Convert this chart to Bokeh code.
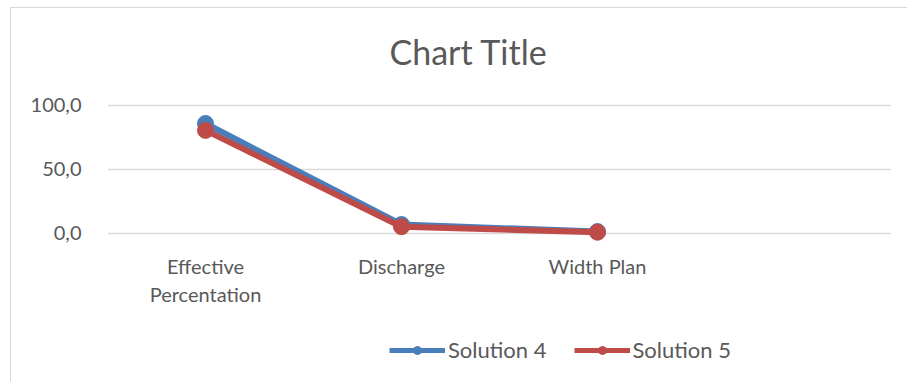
from bokeh.plotting import figure
from bokeh.layouts import column
from bokeh.models import Range1d, FixedTicker, Legend, LegendItem, ColumnDataSource
from bokeh.embed import file_html
from bokeh.resources import INLINE

categories = ["Effective Percentation", "Discharge", "Width Plan"]
category_labels = ["Effective\nPercentation", "Discharge", "Width Plan"]
series_names = ["Solution 4", "Solution 5"]
solution4 = [85.9, 7.0, 1.5]
solution5 = [80.5, 5.3, 1.0]
y_ticks = [0, 50, 100]
y_tick_labels = ["0,0", "50,0", "100,0"]

FONT = "Lato"
TXT = "#595959"
GRID = "#d9d9d9"
BLUE = "#4a7ebb"
RED = "#be4b48"

xs = list(range(len(categories)))

p = figure(width=896, height=305, output_backend="svg", toolbar_location=None,
           x_range=Range1d(-0.5, 3.5), y_range=Range1d(-12.5, 114.8),
           min_border_left=96, min_border_right=16, min_border_top=78, min_border_bottom=64)
p.outline_line_color = None
p.background_fill_color = "white"
p.border_fill_color = "white"

p.title.text = "Chart Title"
p.title.align = "left"
p.title.offset = 282
p.title.text_font = FONT
p.title.text_font_size = "34px"
p.title.text_font_style = "normal"
p.title.text_color = TXT
p.title.standoff = 30

p.xgrid.visible = False
p.ygrid.grid_line_color = GRID
p.ygrid.grid_line_width = 1.5
p.ygrid.ticker = FixedTicker(ticks=y_ticks)

p.yaxis.ticker = FixedTicker(ticks=y_ticks)
p.yaxis.major_label_overrides = dict(zip(y_ticks, y_tick_labels))
p.xaxis.ticker = FixedTicker(ticks=xs)
p.xaxis.major_label_overrides = dict(zip(xs, category_labels))
for ax in (p.xaxis, p.yaxis):
    ax.axis_line_color = None
    ax.major_tick_line_color = None
    ax.minor_tick_line_color = None
    ax.major_label_text_font = FONT
    ax.major_label_text_font_size = "20px"
    ax.major_label_text_color = TXT
p.yaxis.major_label_standoff = 20
p.xaxis.major_label_standoff = -2

src4 = ColumnDataSource(dict(x=xs, y=solution4))
src5 = ColumnDataSource(dict(x=xs, y=solution5))
p.line("x", "y", source=src4, line_color=BLUE, line_width=6)
p.scatter("x", "y", source=src4, size=16, fill_color=BLUE, line_color=BLUE)
p.line("x", "y", source=src5, line_color=RED, line_width=6)
p.scatter("x", "y", source=src5, size=16, fill_color=RED, line_color=RED)

# legend strip below the chart (series drawn off-range, only the legend shows)
q = figure(width=896, height=69, output_backend="svg", toolbar_location=None,
           x_range=Range1d(0, 1), y_range=Range1d(-1000, -999),
           x_axis_location=None, y_axis_location=None, min_border=0)
q.grid.visible = False
q.outline_line_color = None
q.background_fill_color = "white"
q.border_fill_color = "white"
items = []
for name, src, col in zip(series_names, [src4, src5], [BLUE, RED]):
    lr = q.line("x", "y", source=src, line_color=col, line_width=5)
    mr = q.scatter("x", "y", source=src, size=13, fill_color=col, line_color=col)
    items.append(LegendItem(label=name, renderers=[lr, mr]))
legend = Legend(items=items, orientation="horizontal", location=(282, 19))
legend.border_line_color = None
legend.background_fill_alpha = 0
legend.glyph_width = 56
legend.glyph_height = 20
legend.label_standoff = 3
legend.spacing = 27
legend.padding = 6
legend.margin = 0
legend.label_text_font = FONT
legend.label_text_font_size = "22px"
legend.label_text_color = TXT
q.add_layout(legend, "center")

layout = column(p, q, spacing=0)
layout.styles = {"margin-left": "10px", "margin-top": "7px",
                 "border-left": "1px solid #d9d9d9", "border-top": "1px solid #d9d9d9"}

open("out.html", "w").write(file_html(layout, INLINE))
